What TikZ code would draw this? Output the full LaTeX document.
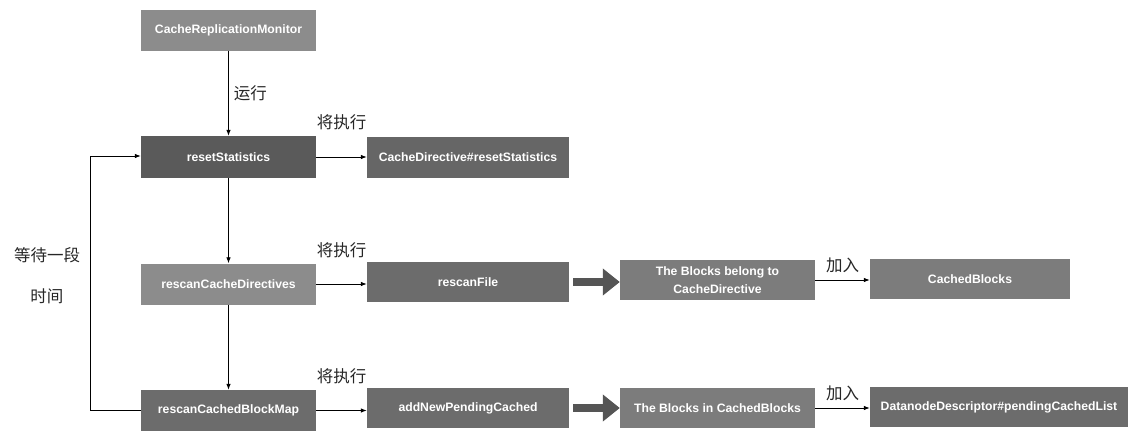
\documentclass[tikz,border=0pt]{standalone}
\usepackage{fontspec}
\setmainfont{Liberation Sans}
\newfontfamily\cjk{Noto Sans CJK SC}
\usetikzlibrary{arrows.meta}
\definecolor{gA}{HTML}{8C8C8C}
\definecolor{gB}{HTML}{5A5A5A}
\definecolor{gC}{HTML}{666666}
\definecolor{gD}{HTML}{7C7C7C}
\definecolor{gE}{HTML}{6C6C6C}
\definecolor{bigarrow}{HTML}{555555}
\tikzset{
  box/.style={draw=none, fill=#1, text=white, font=\fontsize{12.2}{18}\selectfont\bfseries, align=center, inner sep=0pt},
  conn/.style={-{Latex[length=6pt,width=4.5pt]}, line width=0.8pt, black},
  big/.style={-{Triangle[length=17pt,width=26pt]}, line width=8pt, draw=bigarrow, fill=bigarrow},
  lab/.style={font=\cjk\fontsize{16.5}{18}\selectfont, inner sep=0pt, text=black!85},
}
\begin{document}
\begin{tikzpicture}[x=1pt,y=-1pt]
\useasboundingbox (0,0) rectangle (1144,440);
\node[box=gA, minimum width=175pt, minimum height=41pt] (crm) at (228.5,30) {CacheReplicationMonitor};
\node[box=gB, minimum width=175pt, minimum height=42pt] (rs) at (228.5,157) {resetStatistics};
\node[box=gC, minimum width=202pt, minimum height=41pt] (cdr) at (468,157.5) {CacheDirective\#resetStatistics};
\node[box=gA, minimum width=175pt, minimum height=41pt] (rcd) at (228.5,284) {rescanCacheDirectives};
\node[box=gE, minimum width=202pt, minimum height=40pt] (rf) at (468,282) {rescanFile};
\node[box=gD, minimum width=195pt, minimum height=40pt] (bb) at (717.5,280) {The Blocks belong to\\CacheDirective};
\node[box=gD, minimum width=200pt, minimum height=40pt] (cb) at (970,279) {CachedBlocks};
\node[box=gE, minimum width=175pt, minimum height=41pt] (rcbm) at (228.5,410.5) {rescanCachedBlockMap};
\node[box=gE, minimum width=202pt, minimum height=40pt] (anpc) at (468,408) {addNewPendingCached};
\node[box=gD, minimum width=195pt, minimum height=40pt] (bic) at (717.5,408) {The Blocks in CachedBlocks};
\node[box=gE, minimum width=258pt, minimum height=40pt] (dd) at (999,407) {DatanodeDescriptor\#pendingCachedList};

\draw[conn] (crm) -- node[lab, anchor=west, xshift=5pt, pos=0.5] {运行} (rs);
\draw[conn] (rs) -- (rcd);
\draw[conn] (rcd) -- (rcbm);
\draw[conn] (rs.east) -- node[lab, yshift=35pt, pos=0.5] {将执行} (cdr.west |- rs.east);
\draw[conn] (rcd.east) -- node[lab, yshift=34pt, pos=0.5] {将执行} (rf.west |- rcd.east);
\draw[conn] (rcbm.east) -- node[lab, yshift=34pt, pos=0.5] {将执行} (anpc.west |- rcbm.east);
\draw[big] ([xshift=4pt]rf.east) -- (bb.west |- rf.east);
\draw[big] ([xshift=4pt]anpc.east) -- (bic.west |- anpc.east);
\draw[conn] (bb.east) -- node[lab, yshift=15pt, pos=0.5] {加入} (cb.west |- bb.east);
\draw[conn] (bic.east) -- node[lab, yshift=15pt, pos=0.5] {加入} (dd.west |- bic.east);

\coordinate (lb) at (90,410.5);
\coordinate (lt) at (90,156);
\draw[conn] (rcbm.west) -- (lb) -- (lt) -- (rs.west |- lt);
\node[lab] (wait1) at (47,255) {等待一段};
\node[lab] (wait2) at (47,296) {时间};
\end{tikzpicture}
\end{document}
